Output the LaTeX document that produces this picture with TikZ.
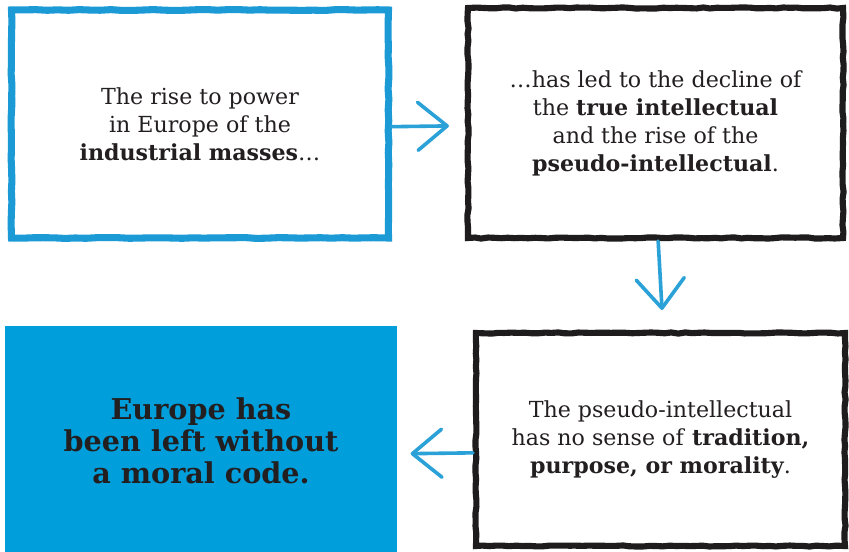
\documentclass[tikz,border=0pt]{standalone}
\usepackage{fontspec}
\setmainfont{DejaVu Serif}
\usetikzlibrary{arrows.meta,decorations.pathmorphing}
\definecolor{boxblue}{HTML}{1B9AD6}
\definecolor{fillblue}{HTML}{009EDB}
\definecolor{arrowblue}{HTML}{2AA2D8}
\definecolor{ink}{HTML}{231F20}
\definecolor{boxblack}{HTML}{1E1C1D}
\tikzset{
  bodytext/.style={text=ink, font=\fontsize{16.6}{21}\selectfont, align=center},
  blueframe/.style={draw=boxblue, line width=5.3pt, bodytext, decorate,
    decoration={random steps, segment length=8pt, amplitude=0.35pt}},
  blackframe/.style={draw=boxblack, line width=4.6pt, bodytext, decorate,
    decoration={random steps, segment length=5pt, amplitude=0.45pt}},
  bluefill/.style={fill=fillblue, text=ink, align=center,
    font=\fontsize{21.5}{24}\selectfont\bfseries},
  arr/.style={draw=arrowblue, line width=2.7pt, line cap=round,
    -{Straight Barb[length=22pt,width=36pt,round]}}
}
\begin{document}
\begin{tikzpicture}[x=0.75pt,y=-0.75pt]
\useasboundingbox (0,0) rectangle (849,551);
\fill[white] (0,0) rectangle (849,551);
\node[blueframe, minimum width=282.75pt, minimum height=171pt] (b1) at (200,124)
  {The rise to power\\in Europe of the\\\textbf{industrial masses}\ldots};
\node[blackframe, minimum width=281.25pt, minimum height=172.5pt] (b2) at (655.5,123)
  {\ldots has led to the decline of\\the \textbf{true intellectual}\\and the rise of the\\\textbf{pseudo-intellectual}.};
\node[blackframe, minimum width=276.75pt, minimum height=159.75pt] (b3) at (660.5,439.5)
  {The pseudo-intellectual\\has no sense of \textbf{tradition,}\\\textbf{purpose, or morality}.};
\node[bluefill, minimum width=294pt, minimum height=171.75pt] (b4) at (201,440.5)
  {Europe has\\been left without\\a moral code.};
\draw[arr, shorten >=12pt] ([yshift=-2pt]b1.east) -- ([yshift=-2pt]b2.west);
\draw[arr, shorten >=15pt] ([xshift=2pt]b2.south) -- ([xshift=2pt]b3.north);
\draw[arr, shorten >=10pt] ([yshift=-10pt]b3.west) -- ([yshift=-10pt]b4.east);
\end{tikzpicture}
\end{document}
